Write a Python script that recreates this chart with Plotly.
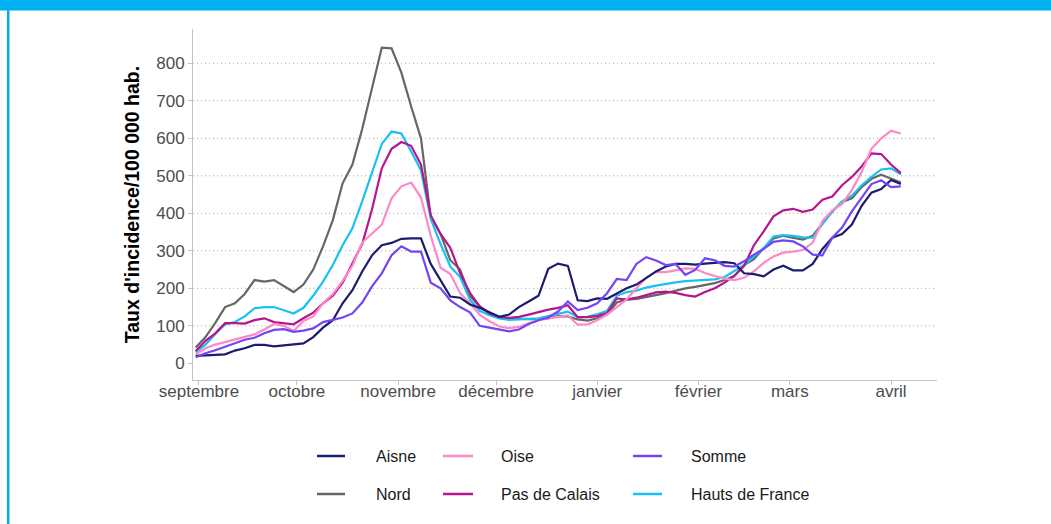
import pandas as pd
import plotly.graph_objects as go

# ---------------- data (every 3 days) ----------------
start_date = "2020-08-31"
step = "3D"

aisne = [20, 22, 22, 24, 34, 40, 49, 49, 45, 47,
         51, 53, 70, 95, 115, 160, 195, 245, 288, 315,
         321, 332, 333, 333, 265, 220, 178, 175, 157, 148,
         136, 124, 130, 150, 165, 180, 252, 266, 260, 168,
         166, 173, 172, 187, 200, 210, 228, 245, 258, 265,
         265, 263, 266, 268, 270, 267, 240, 238, 232, 250,
         260, 248, 248, 265, 305, 335, 345, 370, 420, 455,
         465, 489, 478]

oise = [25, 40, 50, 57, 63, 70, 77, 90, 105, 100,
        86, 113, 125, 160, 185, 220, 260, 322, 345, 370,
        440, 472, 482, 442, 340, 255, 238, 187, 160, 130,
        112, 98, 94, 97, 107, 115, 120, 125, 128, 103,
        104, 115, 130, 150, 170, 200, 228, 244, 243, 248,
        253, 252, 241, 233, 226, 222, 228, 245, 268, 285,
        295, 298, 302, 322, 380, 408, 425, 462, 510, 572,
        600, 620, 613]

somme = [16, 27, 35, 45, 55, 63, 68, 80, 89, 91,
         84, 87, 93, 110, 116, 122, 133, 162, 205, 240,
         288, 312, 298, 298, 215, 200, 168, 150, 136, 100,
         95, 90, 85, 90, 105, 115, 122, 138, 165, 142,
         148, 160, 187, 225, 222, 265, 283, 274, 262, 265,
         236, 249, 280, 275, 260, 258, 272, 290, 305, 324,
         328, 325, 312, 290, 288, 335, 362, 405, 440, 478,
         488, 470, 472]

nord = [42, 70, 108, 150, 160, 185, 222, 218, 222, 206,
        190, 210, 250, 312, 382, 480, 530, 625, 735, 842,
        840, 775, 685, 600, 390, 345, 275, 250, 180, 152,
        133, 124, 120, 118, 118, 118, 120, 126, 125, 117,
        114, 120, 130, 162, 170, 172, 178, 182, 187, 194,
        200, 204, 209, 214, 222, 233, 262, 278, 307, 333,
        340, 335, 330, 340, 372, 405, 430, 440, 470, 492,
        503, 492, 482]

pas_de_calais = [33, 60, 80, 107, 107, 106, 115, 120, 110, 107,
                 104, 120, 135, 160, 180, 215, 265, 318, 410, 520,
                 572, 590, 580, 530, 395, 345, 308, 240, 188, 152,
                 133, 124, 121, 124, 130, 137, 143, 148, 155, 123,
                 123, 126, 134, 173, 170, 175, 182, 189, 191, 188,
                 182, 178, 190, 200, 215, 233, 260, 315, 352, 392,
                 408, 412, 404, 410, 436, 445, 475, 497, 525, 560,
                 558, 530, 507]

hauts_de_france = [30, 50, 78, 104, 110, 125, 147, 150, 150, 142,
                   133, 148, 180, 218, 262, 315, 360, 432, 510, 585,
                   618, 613, 565, 515, 385, 318, 258, 230, 170, 140,
                   128, 120, 116, 117, 118, 120, 126, 132, 138, 123,
                   124, 131, 140, 180, 190, 194, 202, 207, 212, 216,
                   219, 221, 223, 224, 230, 245, 262, 285, 307, 338,
                   342, 340, 336, 335, 372, 405, 432, 447, 475, 497,
                   517, 520, 504]

series_names = ["Aisne", "Oise", "Somme", "Nord", "Pas de Calais", "Hauts de France"]
series_values = [aisne, oise, somme, nord, pas_de_calais, hauts_de_france]
series_colors = ["#1C1C6E", "#FF88C6", "#7445F5", "#666666", "#B5168E", "#19C0F2"]
draw_order = [3, 5, 4, 1, 0, 2]  # drawing order of the lines

month_ticks = ["2020-09-01", "2020-10-01", "2020-11-01", "2020-12-01",
               "2021-01-01", "2021-02-01", "2021-03-01", "2021-04-01"]
month_labels = ["septembre", "octobre", "novembre", "décembre",
                "janvier", "février", "mars", "avril"]
y_ticks = [0, 100, 200, 300, 400, 500, 600, 700, 800]
y_title = "Taux d'incidence/100 000 hab."

dates = pd.date_range(start_date, periods=len(aisne), freq=step)

# ---------------- figure ----------------
W, H = 1051, 524
L, R, T, B = 193, 114, 29, 144
pw, ph = W - L - R, H - T - B


def px_x(p):
    return (p - L) / pw


def px_y(p):
    return (H - B - p) / ph


fig = go.Figure()
for i in draw_order:
    fig.add_trace(go.Scatter(
        x=dates, y=series_values[i], name=series_names[i], mode="lines",
        line=dict(color=series_colors[i], width=2.2), showlegend=False,
    ))

shapes = []
# dotted horizontal grid (no line at 0)
for v in y_ticks[1:]:
    shapes.append(dict(type="line", xref="paper", yref="y", x0=0, x1=1, y0=v, y1=v,
                       line=dict(color="#A8A8A8", width=1, dash="1px,3px"), layer="below"))
# top band & left border
shapes.append(dict(type="rect", xref="paper", yref="paper",
                   x0=px_x(-5), x1=px_x(W + 5), y0=px_y(10.5), y1=px_y(-5),
                   fillcolor="#00B0F0", line=dict(width=0), layer="above"))
shapes.append(dict(type="rect", xref="paper", yref="paper",
                   x0=px_x(7), x1=px_x(9.5), y0=px_y(H + 5), y1=px_y(9),
                   fillcolor="#00B0F0", line=dict(width=0), layer="above"))

annotations = []
# manual legend (3 columns x 2 rows, ggplot-like)
leg_cols = [(317, 345, 374), (443, 473, 499), (633, 662, 689)]
leg_rows = [456, 494]
leg_layout = [(0, 0), (0, 1), (0, 2), (1, 0), (1, 1), (1, 2)]
for i, (r, c) in enumerate(leg_layout):
    x0, x1, xt = leg_cols[c]
    yy = leg_rows[r]
    shapes.append(dict(type="line", xref="paper", yref="paper",
                       x0=px_x(x0), x1=px_x(x1), y0=px_y(yy), y1=px_y(yy),
                       line=dict(color=series_colors[i], width=2.5)))
    annotations.append(dict(xref="paper", yref="paper", x=px_x(xt), y=px_y(yy),
                            text=series_names[i], showarrow=False, xanchor="left",
                            yanchor="middle", font=dict(size=16, color="#1A1A1A")))

fig.update_layout(
    width=W, height=H,
    margin=dict(l=L, r=R, t=T, b=B, pad=0),
    paper_bgcolor="white", plot_bgcolor="white",
    font=dict(family="Liberation Sans, Arial, sans-serif"),
    shapes=shapes, annotations=annotations,
    showlegend=False,
    xaxis=dict(
        type="date",
        range=["2020-08-30 04:00", "2021-04-15 02:00"],
        tickvals=month_ticks, ticktext=month_labels,
        showgrid=False, zeroline=False,
        showline=True, linecolor="#C4C4C4", linewidth=1,
        ticks="outside", ticklen=4, tickcolor="#C4C4C4",
        ticklabelstandoff=-8,
        tickfont=dict(size=17, color="#4D4D4D"),
    ),
    yaxis=dict(
        range=[-44.5, 891.5],
        tickvals=y_ticks,
        showgrid=False, zeroline=False,
        showline=True, linecolor="#C4C4C4", linewidth=1,
        ticks="outside", ticklen=4, tickcolor="#C4C4C4",
        tickfont=dict(size=17, color="#4D4D4D"),
        title=dict(text="<b>" + y_title + "</b>", standoff=11,
                   font=dict(size=19.5, color="#000000")),
    ),
)

fig.write_html("out.html", config={"displayModeBar": False},
               post_script="document.body.style.margin='0px';")
